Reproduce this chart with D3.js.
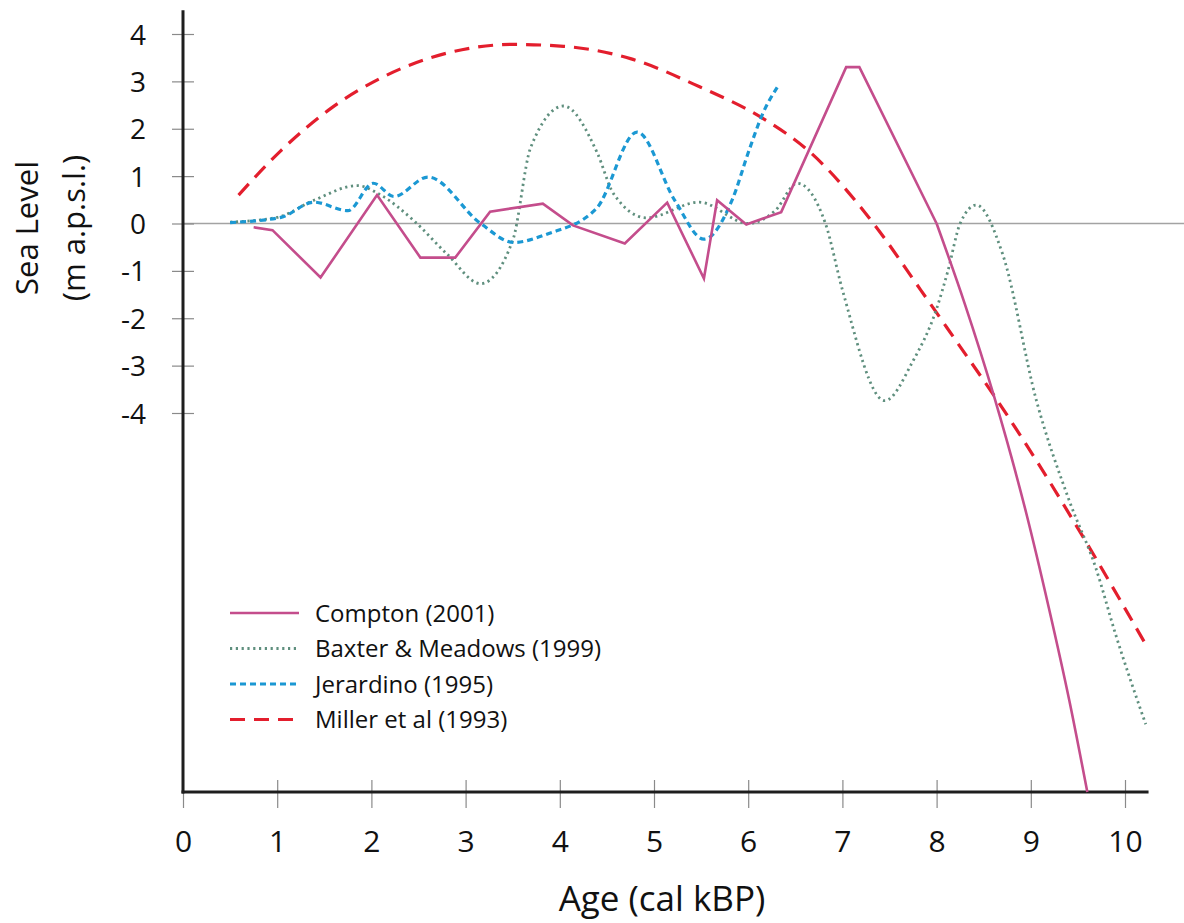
<!DOCTYPE html>
<html>
<head>
<meta charset="utf-8">
<script src="https://cdn.jsdelivr.net/npm/d3@7"></script>
<style>
  html, body { margin: 0; padding: 0; background: #fff; }
  text { font-family: "Open Sans", "Noto Sans", sans-serif; fill: #111; }
</style>
</head>
<body>
<svg id="chart" width="1184" height="923"></svg>
<script>
// ---- data ----
const xTicks = [0, 1, 2, 3, 4, 5, 6, 7, 8, 9, 10];
const yTicks = [-4, -3, -2, -1, 0, 1, 2, 3, 4];

const seriesNames = ["Compton (2001)", "Baxter & Meadows (1999)", "Jerardino (1995)", "Miller et al (1993)"];

// Compton: jagged part (straight segments) up to 8 kBP, then a smooth fall
const comptonAge = [0.75, 0.95, 1.46, 2.06, 2.52, 2.89, 3.26, 3.82, 4.14, 4.69, 5.14, 5.53, 5.67, 5.98, 6.35, 7.04, 7.18, 8.0];
const comptonLevel = [-0.08, -0.14, -1.14, 0.6, -0.72, -0.72, 0.25, 0.42, -0.04, -0.42, 0.44, -1.16, 0.49, -0.02, 0.24, 3.3, 3.3, 0];
const comptonTailAge = [8.0, 8.3, 8.61, 8.95, 9.19, 9.41, 9.6];
const comptonTailLevel = [0, -1.7, -3.65, -6.1, -8.1, -10.08, -12.0];

const baxterAge = [0.5, 1.0, 1.39, 1.85, 2.1, 2.45, 2.8, 3.16, 3.5, 3.69, 4.04, 4.4, 4.57, 4.92, 5.48, 6.0, 6.29, 6.52, 6.82, 7.0, 7.45, 7.75, 8.0, 8.12, 8.25, 8.42, 8.7, 9.06, 9.41, 9.69, 9.9, 10.22];
const baxterLevel = [0.03, 0.13, 0.49, 0.8, 0.6, 0.06, -0.64, -1.27, -0.36, 1.6, 2.48, 1.48, 0.63, 0.12, 0.45, 0, 0.28, 0.85, 0, -1.4, -3.74, -2.9, -1.8, -1.0, 0, 0.39, -0.64, -3.74, -5.86, -7.27, -8.67, -10.57];

const jerardinoAge = [0.5, 1.04, 1.39, 1.75, 2.02, 2.24, 2.6, 3.16, 3.51, 3.87, 4.39, 4.82, 5.22, 5.53, 5.83, 6.01, 6.15, 6.31];
const jerardinoLevel = [0.02, 0.13, 0.45, 0.27, 0.85, 0.57, 0.98, 0.0, -0.4, -0.22, 0.32, 1.93, 0.49, -0.33, 0.5, 1.55, 2.3, 2.88];

const millerAge = [0.59, 1.04, 1.57, 2.1, 2.81, 3.5, 4.04, 4.75, 5.49, 6.13, 6.66, 7.33, 7.83, 8.18, 8.65, 9.09, 9.55, 10.23];
const millerLevel = [0.6, 1.54, 2.43, 3.07, 3.6, 3.78, 3.74, 3.48, 2.88, 2.25, 1.5, 0, -1.4, -2.4, -3.75, -5.1, -6.6, -8.92];

// ---- layout ----
const svg = d3.select("#chart");
const x = d3.scaleLinear().domain([0, 10]).range([183, 1125]);
const y = d3.scaleLinear().domain([0, 4]).range([223.5, 34]);
const yBottom = -12, yTop = 4.5, xEnd = 10.25;

const zip = (a, b) => a.map((v, i) => [v, b[i]]);

// zero line
svg.append("line")
  .attr("x1", x(0)).attr("x2", 1184)
  .attr("y1", y(0)).attr("y2", y(0))
  .attr("stroke", "#a3a3a3").attr("stroke-width", 1.6);

// axes
const yAxis = d3.axisLeft(y).tickValues(yTicks).tickFormat(d => String(d)).tickSize(0).tickPadding(0);
const gy = svg.append("g").attr("transform", `translate(${x(0)},0)`).call(yAxis);
gy.select(".domain").remove();
gy.selectAll(".tick line").attr("x1", -11).attr("x2", 11).attr("stroke", "#8a8a8a").attr("stroke-width", 1.2);
gy.selectAll(".tick text").attr("x", -37).attr("dy", "0.36em")
  .style("font-size", "28px").style("font-family", "'Open Sans', sans-serif").attr("fill", "#111");

const xAxis = d3.axisBottom(x).tickValues(xTicks).tickFormat(d => String(d)).tickSize(0).tickPadding(0);
const gx = svg.append("g").attr("transform", `translate(0,${y(yBottom)})`).call(xAxis);
gx.select(".domain").remove();
gx.selectAll(".tick line").attr("y1", -12).attr("y2", 16).attr("stroke", "#8a8a8a").attr("stroke-width", 1.2);
gx.selectAll(".tick text").attr("y", 49).attr("dy", "0.36em")
  .style("font-size", "30px").style("font-family", "'Open Sans', sans-serif").attr("fill", "#111");

// axis lines
svg.append("line").attr("x1", x(0)).attr("x2", x(0)).attr("y1", y(yTop)).attr("y2", y(yBottom) + 1.5)
  .attr("stroke", "#1e1e1e").attr("stroke-width", 3);
svg.append("line").attr("x1", x(0) - 1.5).attr("x2", x(xEnd)).attr("y1", y(yBottom)).attr("y2", y(yBottom))
  .attr("stroke", "#1e1e1e").attr("stroke-width", 3);

// axis titles
svg.append("text").attr("x", 662).attr("y", 911).attr("text-anchor", "middle")
  .style("font-size", "35px").text("Age (cal kBP)");
const yt = svg.append("g").attr("transform", "translate(0,228) rotate(-90)");
yt.append("text").attr("x", 0).attr("y", 38).attr("text-anchor", "middle").style("font-size", "31px").text("Sea Level");
yt.append("text").attr("x", 0).attr("y", 85).attr("text-anchor", "middle").style("font-size", "31px").text("(m a.p.s.l.)");

// series
const styles = [
  { color: "#c44d8c", width: 2.6, dash: null },
  { color: "#5f8f7e", width: 2.8, dash: "2.2,3.6" },
  { color: "#1b98d3", width: 3.2, dash: "6,4" },
  { color: "#e31e2d", width: 3.2, dash: "15,9" }
];
const lineLinear = d3.line().x(d => x(d[0])).y(d => y(d[1])).curve(d3.curveLinear);
const lineSmooth = d3.line().x(d => x(d[0])).y(d => y(d[1])).curve(d3.curveMonotoneX);

function drawPath(pts, s, gen) {
  svg.append("path").datum(pts)
    .attr("d", gen)
    .attr("fill", "none")
    .attr("stroke", s.color)
    .attr("stroke-width", s.width)
    .attr("stroke-dasharray", s.dash)
    .attr("stroke-linejoin", "miter");
}
drawPath(zip(millerAge, millerLevel), styles[3], lineSmooth);
drawPath(zip(baxterAge, baxterLevel), styles[1], lineSmooth);
drawPath(zip(jerardinoAge, jerardinoLevel), styles[2], lineSmooth);
drawPath(zip(comptonAge, comptonLevel), styles[0], lineLinear);
drawPath(zip(comptonTailAge, comptonTailLevel), styles[0], lineSmooth);

// legend
const lg = svg.append("g");
seriesNames.forEach((name, i) => {
  const s = styles[i];
  const cy = 613 + i * 35.5;
  lg.append("line").attr("x1", 230).attr("x2", 299).attr("y1", cy).attr("y2", cy)
    .attr("stroke", s.color).attr("stroke-width", s.width).attr("stroke-dasharray", s.dash);
  lg.append("text").attr("x", 315).attr("y", cy).attr("dy", "0.36em")
    .style("font-size", "24px").text(name);
});
</script>
</body>
</html>
